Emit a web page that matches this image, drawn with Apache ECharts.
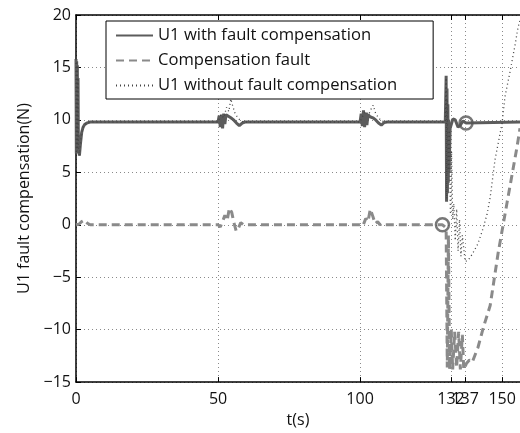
<!DOCTYPE html>
<html>
<head>
<meta charset="utf-8">
<script src="https://cdn.jsdelivr.net/npm/echarts@6/dist/echarts.min.js"></script>
<style>
html,body{margin:0;padding:0;background:#fff;}
#chart{width:520px;height:433px;}
</style>
</head>
<body>
<div id="chart"></div>
<script>
// ---- data ----
const xTicks = [0, 50, 100, 132, 137, 150];
const yTicks = [-15, -10, -5, 0, 5, 10, 15, 20];

const seriesNames = ['U1 with fault compensation', 'Compensation fault', 'U1 without fault compensation'];

// U1 with fault compensation
const tWith = [0, 0.12, 0.24, 0.36, 0.48, 0.6, 0.72, 0.84,
  1.2, 1.6, 2, 2.5, 3, 4, 5,
  50, 50.4, 50.8, 51.2, 51.6, 52, 52.4, 52.8,
  53.5, 54.5, 55.5, 56.5, 57.5, 58.5, 59.5,
  100, 100.4, 100.8, 101.2, 101.6, 102, 102.4, 102.8,
  103.5, 104.5, 105.5, 106.5, 107.5, 108.5, 109.5,
  130, 130.3, 130.45, 130.6, 130.75, 130.9, 131.05, 131.2, 131.35,
  131.7, 132.7, 133.5, 134.5, 135.3, 136.2, 137.3, 156.3];
const uWith = [15.8, 6.8, 15.6, 7.0, 15.2, 7.2, 14, 7.5,
  6.6, 7.8, 8.8, 9.3, 9.55, 9.72, 9.8,
  9.8, 10.4, 9.3, 10.5, 9.2, 10.6, 9.6, 10.5,
  10.4, 10.2, 10.0, 9.7, 9.45, 9.7, 9.8,
  9.8, 10.6, 9.4, 10.9, 9.3, 10.7, 9.5, 10.5,
  10.3, 10.2, 10.0, 9.7, 9.5, 9.75, 9.8,
  9.8, 14.2, 2.2, 13, 3, 11.5, 4, 10, 5,
  9.2, 10.1, 10.0, 9.3, 9.5, 9.9, 9.7, 9.8];

// Compensation fault
const tFault = [0, 1, 2, 3, 4, 5,
  50, 50.8, 51.6, 52.4, 53.2, 54, 54.8, 55.6, 56.4, 57.2, 58, 59, 60,
  100, 101, 102, 102.8, 103.6, 104.5, 105.3, 106.2, 107, 108, 109, 110,
  129, 130.3, 130.7, 131.1, 131.5, 132.1, 132.6, 133.3, 134, 134.7, 135.3, 136, 136.5, 137.5, 138.5, 139.5,
  141.5, 143.5, 145.8, 148.6, 151.8, 155.3, 156.3];
const uFault = [0, 0.05, 0.3, 0.45, 0.15, 0,
  0, -0.2, 0.3, 0.9, 0.4, 1.6, 1.2, 0.2, -0.6, -0.3, 0.2, 0, 0,
  0, -0.1, 0.6, 0.3, 1.5, 0.8, 0.1, 0.3, 0, 0.15, 0, 0,
  0, -0.3, -13.6, -1, -13.8, -10, -13.8, -10.2, -13.6, -10.2, -13.8, -10.5, -13.8, -13.2, -12.9, -13.1,
  -11.7, -9.7, -7.7, -2.7, 2.2, 7.5, 9.2];

// U1 without fault compensation
const tWithout = [0, 0.12, 0.24, 0.36, 0.48, 0.6, 0.72, 0.84,
  1.2, 1.6, 2, 2.5, 3, 4, 5,
  50, 51, 52, 53, 53.8, 54.5, 55.2, 56, 57, 58, 59, 60,
  100, 101, 102, 103, 104, 104.6, 105.5, 106.5, 107.5, 109,
  130, 130.3, 130.5, 130.7, 131, 131.4, 131.8, 132.2, 132.6, 133, 133.5, 134, 134.5, 135, 135.5, 136, 137,
  138, 139.5, 141.5, 143, 144.7, 145.8, 147.5, 150, 151, 152.8, 154.6, 155.6, 156.3];
const uWithout = [15.8, 6.8, 15.6, 7.0, 15.2, 7.2, 14, 7.5,
  6.6, 7.8, 8.8, 9.3, 9.55, 9.72, 9.8,
  9.8, 10.5, 10.2, 11.2, 10.8, 12.0, 11.3, 10.6, 10.2, 9.9, 9.8, 9.8,
  9.8, 10.4, 10.8, 10.5, 11.1, 11.4, 10.6, 10.2, 9.9, 9.8,
  9.8, 14, 2.5, 12, 5, 9, 1, 7, 0.5, 2, -1.5, 1.5, -2.5, 0.5, -3, -1, -3.5,
  -3.4, -2.8, -1.8, -0.6, 1.0, 2.6, 6.2, 9.7, 12.2, 14.6, 17.2, 18.8, 19.5];

// circle markers
const tMarks = [129, 137.3];
const uMarks = [0, 9.7];

// ---- build ----
function pairs(t, u) {
  const n = Math.min(t.length, u.length);
  const out = [];
  for (let i = 0; i < n; i++) out.push([t[i], u[i]]);
  return out;
}

const FONT = 'Open Sans';
const xMax = 156.3;

const chart = echarts.init(document.getElementById('chart'), null, {renderer: 'canvas'});
const axisLineStyle = {color: '#000', width: 1.5};
const gridLine = {show: true, lineStyle: {color: '#8a8a8a', width: 1, type: [1, 3]}};

const option = {
  animation: false,
  backgroundColor: '#fff',
  grid: {left: 76, right: 0, top: 15, bottom: 45},
  legend: {
    orient: 'vertical',
    left: 106, top: 21,
    padding: [6, 36, 5, 9],
    itemGap: 8,
    itemWidth: 37, itemHeight: 14,
    backgroundColor: '#fff',
    borderColor: '#000', borderWidth: 1, borderRadius: 0,
    itemStyle: {opacity: 0},
    textStyle: {fontFamily: FONT, fontSize: 16.6, color: '#111'},
    data: seriesNames
  },
  xAxis: [{
    type: 'value', min: 0, max: xMax, position: 'bottom',
    name: 't(s)', nameLocation: 'middle', nameGap: 20,
    nameTextStyle: {fontFamily: FONT, fontSize: 16, color: '#111'},
    axisLine: {show: true, onZero: false, lineStyle: axisLineStyle},
    axisTick: {show: true, inside: true, length: 5, customValues: xTicks, lineStyle: {color: '#000'}},
    axisLabel: {show: true, customValues: xTicks, fontFamily: FONT, fontSize: 16, color: '#111', margin: 9},
    splitLine: gridLine
  }, {
    type: 'value', min: 0, max: xMax, position: 'top',
    axisLine: {show: true, onZero: false, lineStyle: axisLineStyle},
    axisTick: {show: true, inside: true, length: 5, customValues: xTicks, lineStyle: {color: '#000'}},
    axisLabel: {show: false},
    splitLine: {show: false}
  }],
  yAxis: {
    type: 'value', min: -15, max: 20, interval: 5,
    name: 'U1 fault compensation(N)', nameLocation: 'middle', nameGap: 40,
    nameTextStyle: {fontFamily: FONT, fontSize: 16, color: '#111'},
    axisLine: {show: true, onZero: false, lineStyle: axisLineStyle},
    axisTick: {show: true, inside: true, length: 5, customValues: yTicks, lineStyle: {color: '#000'}},
    axisLabel: {show: true, customValues: yTicks, fontFamily: FONT, fontSize: 16, color: '#111', margin: 5,
      formatter: v => String(v).replace('-', '\u2212')},
    splitLine: gridLine
  },
  series: [{
    name: seriesNames[0], type: 'line', symbol: 'none', z: 3,
    data: pairs(tWith, uWith),
    lineStyle: {color: '#5c5c5c', width: 3, type: 'solid'},
    itemStyle: {color: '#5c5c5c'}
  }, {
    name: seriesNames[1], type: 'line', symbol: 'none', z: 2,
    data: pairs(tFault, uFault),
    lineStyle: {color: '#8a8a8a', width: 3, type: [8, 5]},
    itemStyle: {color: '#8a8a8a'}
  }, {
    name: seriesNames[2], type: 'line', symbol: 'none', z: 4,
    data: pairs(tWithout, uWithout),
    lineStyle: {color: '#444', width: 1.3, type: [1, 3]},
    itemStyle: {color: '#444'}
  }, {
    name: 'marks', type: 'scatter', symbol: 'circle', symbolSize: 13, z: 5,
    data: pairs(tMarks, uMarks),
    itemStyle: {color: 'rgba(0,0,0,0)', borderColor: '#555', borderWidth: 2.5}
  }]
};
chart.setOption(option);
</script>
</body>
</html>
